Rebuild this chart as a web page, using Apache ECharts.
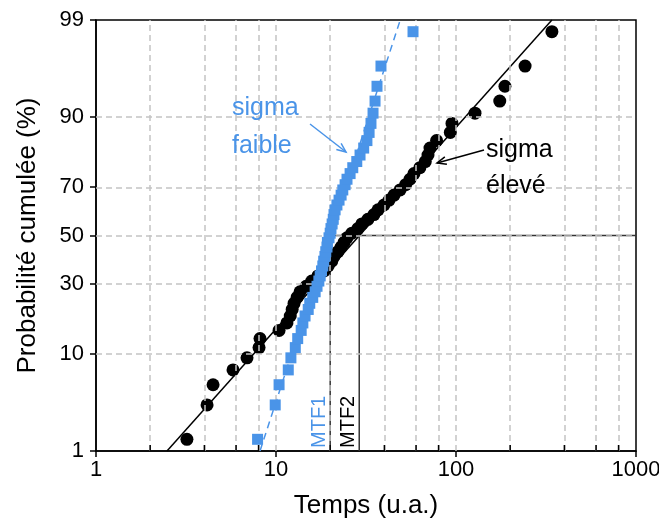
<!DOCTYPE html>
<html><head><meta charset="utf-8">
<script src="https://cdn.jsdelivr.net/npm/echarts@6/dist/echarts.min.js"></script>
<style>html,body{margin:0;padding:0;background:#fff}#c{width:659px;height:524px}</style>
</head><body><div id="c"></div>
<script>
// ---- data ----
const probTicks = [1, 10, 30, 50, 70, 90, 99];
const probGrid = [10, 30, 50, 70, 90];
const xGrid = [2, 4, 6, 8, 10, 20, 40, 60, 80, 100, 200, 400, 600, 800];
const xMinorTicks = [2, 4, 6, 8, 20, 40, 60, 80, 200, 400, 600, 800];
// cumulative probability (%) of each ranked failure (50 samples)
const rankProb = [1.39, 3.37, 5.36, 7.34, 9.33, 11.31, 13.29, 15.28, 17.26, 19.25,
  21.23, 23.21, 25.20, 27.18, 29.17, 31.15, 33.13, 35.12, 37.10, 39.09,
  41.07, 43.06, 45.04, 47.02, 49.01, 50.99, 52.98, 54.96, 56.94, 58.93,
  60.91, 62.90, 64.88, 66.87, 68.85, 70.83, 72.82, 74.80, 76.79, 78.77,
  80.75, 82.74, 84.72, 86.71, 88.69, 90.67, 92.66, 94.64, 96.63, 98.61];
// sigma élevé (black circles)
const timesHigh = [3.2, 4.14, 4.47, 5.77, 6.9, 8.05, 8.15, 10.4, 11.5, 12.0,
  12.3, 12.6, 13.1, 13.6, 14.7, 15.8, 17.1, 18.5, 19.5, 20.4,
  21.0, 22.1, 23.0, 23.9, 24.8, 26.4, 28.5, 30.0, 32.4, 35.0,
  36.9, 39.8, 42.5, 45.3, 48.9, 52.5, 55.5, 58.4, 63.0, 67.5,
  69.9, 71.7, 78, 93, 95, 127.5, 175, 187, 242, 341];
// sigma faible (blue squares)
const timesLow = [7.9, 9.9, 10.4, 11.7, 12.1, 12.8, 13.2, 13.8, 14.1, 14.5,
  15.1, 15.4, 16.0, 16.5, 16.9, 17.3, 17.6, 17.9, 18.2, 18.4,
  18.7, 18.9, 19.2, 19.3, 19.7, 20.0, 20.2, 20.5, 20.8, 21.0,
  21.3, 21.8, 22.4, 23.0, 23.5, 24.2, 24.8, 25.8, 26.7, 28.1,
  29.3, 30.7, 32.0, 32.9, 33.7, 34.6, 35.5, 36.4, 38.3, 57.7];
const fitHigh = [[2.48, 1], [341, 99]];
const fitLow = [[8.15, 1], [49, 99]];
const mtfValues = [20, 29];   // MTF1, MTF2
const mtfLabels = ['MTF1', 'MTF2'];

// ---- probability scale (normal quantile) ----
function normInv(p) {
  const a = [-3.969683028665376e+01, 2.209460984245205e+02, -2.759285104469687e+02, 1.383577518672690e+02, -3.066479806614716e+01, 2.506628277459239e+00];
  const b = [-5.447609879822406e+01, 1.615858368580409e+02, -1.556989798598866e+02, 6.680131188771972e+01, -1.328068155288572e+01];
  const c = [-7.784894002430293e-03, -3.223964580411365e-01, -2.400758277161838e+00, -2.549732539343734e+00, 4.374664141464968e+00, 2.938163982698783e+00];
  const d = [7.784695709041462e-03, 3.224671290700398e-01, 2.445134137142996e+00, 3.754408661907416e+00];
  const pl = 0.02425, ph = 1 - pl;
  let q, r;
  if (p < pl) { q = Math.sqrt(-2 * Math.log(p)); return (((((c[0]*q+c[1])*q+c[2])*q+c[3])*q+c[4])*q+c[5]) / ((((d[0]*q+d[1])*q+d[2])*q+d[3])*q+1); }
  if (p <= ph) { q = p - 0.5; r = q*q; return (((((a[0]*r+a[1])*r+a[2])*r+a[3])*r+a[4])*r+a[5])*q / (((((b[0]*r+b[1])*r+b[2])*r+b[3])*r+b[4])*r+1); }
  q = Math.sqrt(-2 * Math.log(1 - p)); return -(((((c[0]*q+c[1])*q+c[2])*q+c[3])*q+c[4])*q+c[5]) / ((((d[0]*q+d[1])*q+d[2])*q+d[3])*q+1);
}
const Z = pct => normInv(pct / 100);
const zMin = Z(1), zMax = Z(99);
const tickZ = probTicks.map(Z);

const BLUE = '#4A94E8';
const FONT = "'Liberation Sans', Arial, sans-serif";

const chart = echarts.init(document.getElementById('c'), null, {renderer: 'canvas'});
const option = {
  animation: false,
  backgroundColor: '#fff',
  textStyle: {fontFamily: FONT},
  grid: {left: 96, right: 23, top: 20, bottom: 73, containLabel: false, outerBoundsMode: 'none',
    show: true, borderColor: '#000', borderWidth: 1.5, backgroundColor: 'transparent'},
  xAxis: {
    type: 'log', logBase: 10, min: 1, max: 1000,
    name: 'Temps (u.a.)', nameLocation: 'middle', nameGap: 42,
    nameTextStyle: {fontSize: 26, color: '#000', fontFamily: FONT},
    axisLine: {onZero: false, lineStyle: {color: '#000', width: 1.5}},
    axisTick: {show: true, length: 6, lineStyle: {color: '#000', width: 1.5}},
    axisLabel: {fontSize: 22, color: '#000', margin: 8, fontFamily: FONT, formatter: v => String(Math.round(v))},
    splitLine: {show: false}, minorTick: {show: false}
  },
  yAxis: {
    type: 'value', min: zMin, max: zMax,
    name: 'Probabilité cumulée (%)', nameLocation: 'middle', nameGap: 55, nameRotate: 90,
    nameTextStyle: {fontSize: 26, color: '#000', fontFamily: FONT},
    axisLine: {show: true, onZero: false, lineStyle: {color: '#000', width: 1.5}},
    axisTick: {show: true, length: 6, customValues: tickZ, lineStyle: {color: '#000', width: 1.5}},
    axisLabel: {fontSize: 22, color: '#000', margin: 12, fontFamily: FONT, customValues: tickZ,
      formatter: v => { for (let i = 0; i < tickZ.length; i++) if (Math.abs(tickZ[i] - v) < 1e-6) return String(probTicks[i]); return ''; }},
    splitLine: {show: false}
  },
  series: [
    { // grid lines
      type: 'line', data: [], z: 1, silent: true,
      markLine: {silent: true, symbol: 'none', animation: false, label: {show: false},
        lineStyle: {type: [6, 4], color: '#c4c4c4', width: 1.5},
        data: xGrid.map(v => ({xAxis: v})).concat(probGrid.map(p => ({yAxis: Z(p)})))}
    },
    { // minor ticks inside
      type: 'scatter', silent: true, z: 20, clip: false,
      data: xMinorTicks.map(v => [v, zMin]),
      symbol: 'rect', symbolSize: [1.5, 6], symbolOffset: [0, -3],
      itemStyle: {color: '#000', opacity: 1}
    },
    { // MTF1 guide
      type: 'line', silent: true, z: 2, symbol: 'none',
      data: [[mtfValues[0], zMin], [mtfValues[0], 0], [1000, 0]],
      lineStyle: {color: '#333', width: 1.5}
    },
    { // MTF2 guide
      type: 'line', silent: true, z: 2, symbol: 'none',
      data: [[mtfValues[1], zMin], [mtfValues[1], 0]],
      lineStyle: {color: '#333', width: 1.5}
    },
    { // fit sigma élevé
      type: 'line', silent: true, z: 3, symbol: 'none',
      data: fitHigh.map(d => [d[0], Z(d[1])]),
      lineStyle: {color: '#000', width: 1.5}
    },
    { // fit sigma faible
      type: 'line', silent: true, z: 3, symbol: 'none',
      data: fitLow.map(d => [d[0], Z(d[1])]),
      lineStyle: {color: BLUE, width: 1.5, type: [7, 5]}
    },
    {
      name: 'sigma élevé', type: 'scatter', z: 4,
      data: timesHigh.map((t, i) => [t, Z(rankProb[i])]),
      symbol: 'circle', symbolSize: 13, itemStyle: {color: '#000', opacity: 1}
    },
    {
      name: 'sigma faible', type: 'scatter', z: 5,
      data: timesLow.map((t, i) => [t, Z(rankProb[i])]),
      symbol: 'rect', symbolSize: 11, itemStyle: {color: BLUE, opacity: 1}
    }
  ]
};
chart.setOption(option);

// annotations
const g = [];
const p1 = chart.convertToPixel({gridIndex: 0}, [mtfValues[0], zMin]);
const p2 = chart.convertToPixel({gridIndex: 0}, [mtfValues[1], zMin]);
[[p1, BLUE, mtfLabels[0]], [p2, '#000', mtfLabels[1]]].forEach(([p, col, txt]) => {
  g.push({type: 'text', x: p[0] - 1, y: p[1] - 3, rotation: Math.PI / 2, z: 50,
    style: {text: txt, fill: col, font: "20px " + FONT, align: 'left', verticalAlign: 'bottom'}});
});
function arrow(x1, y1, x2, y2, col) {
  const ang = Math.atan2(y2 - y1, x2 - x1), L = 10, w = 0.4;
  g.push({type: 'line', z: 50, shape: {x1, y1, x2, y2}, style: {stroke: col, lineWidth: 1.5}});
  g.push({type: 'polyline', z: 50, shape: {points: [
    [x2 - L * Math.cos(ang - w), y2 - L * Math.sin(ang - w)], [x2, y2],
    [x2 - L * Math.cos(ang + w), y2 - L * Math.sin(ang + w)]]}, style: {stroke: col, lineWidth: 1.5, fill: null}});
}
g.push({type: 'text', x: 232, y: 108, z: 50, style: {text: 'sigma', fill: BLUE, font: "25px " + FONT, verticalAlign: 'middle'}});
g.push({type: 'text', x: 232, y: 146, z: 50, style: {text: 'faible', fill: BLUE, font: "25px " + FONT, verticalAlign: 'middle'}});
g.push({type: 'text', x: 486, y: 150, z: 50, style: {text: 'sigma', fill: '#000', font: "25px " + FONT, verticalAlign: 'middle'}});
g.push({type: 'text', x: 486, y: 186, z: 50, style: {text: 'élevé', fill: '#000', font: "25px " + FONT, verticalAlign: 'middle'}});
arrow(310, 124, 346, 152, BLUE);
arrow(484, 150, 437, 163, '#000');
chart.setOption({graphic: g});
</script></body></html>
